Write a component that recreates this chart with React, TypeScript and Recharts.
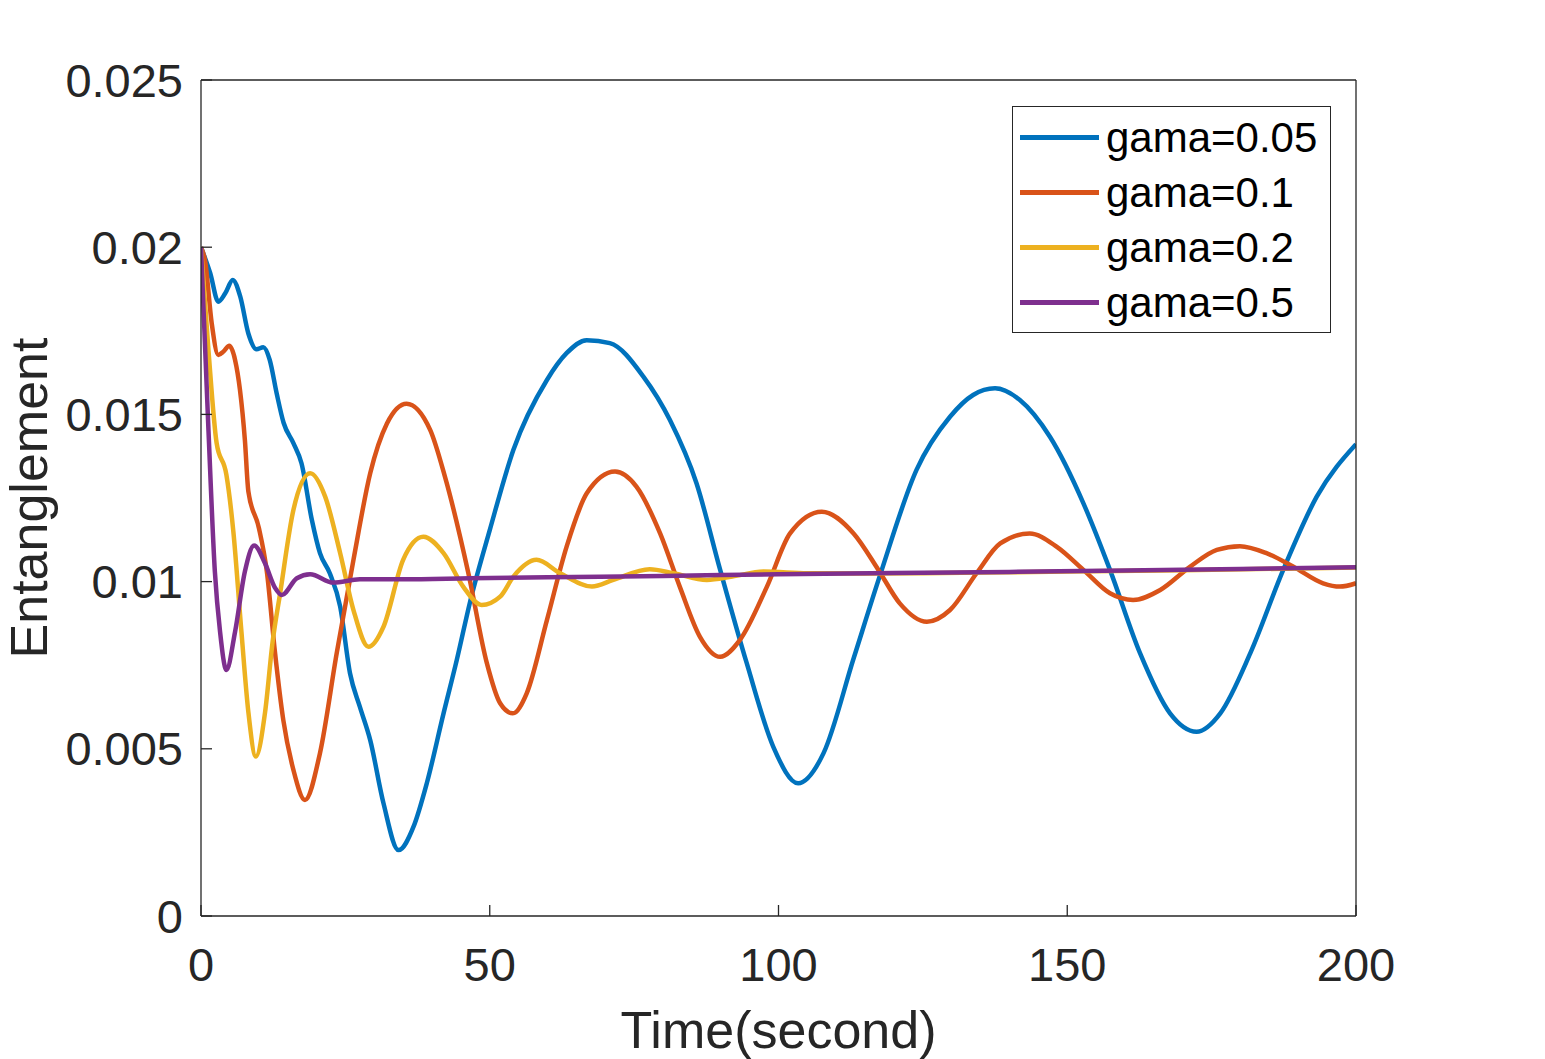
import React from 'react';
import { LineChart, Line, XAxis, YAxis, Legend } from 'recharts';

const FONT = '"Liberation Sans", Arial, Helvetica, sans-serif';
const AXIS = '#262626';

// [time (s), entanglement]
const gama005: [number, number][] = [
  [0, 0.02], [1.6, 0.01922], [3.0, 0.01837], [4.2, 0.01862], [5.5, 0.01902], [6.8, 0.01852],
  [8.2, 0.01742], [9.6, 0.01695], [10.8, 0.01701], [11.9, 0.01663], [13.1, 0.01563], [14.3, 0.01475],
  [16.0, 0.01414], [17.4, 0.01354], [19.2, 0.01184], [20.6, 0.01085], [22.3, 0.01025], [24.1, 0.00925],
  [25.8, 0.00726], [27.5, 0.00626], [29.3, 0.00526], [31.6, 0.00337], [34.2, 0.00197], [36.8, 0.00267],
  [39.1, 0.00397], [42.0, 0.00606], [44.3, 0.00766], [46.6, 0.0094], [50.0, 0.01154], [54.1, 0.01394],
  [59.9, 0.01603], [63.3, 0.01683], [66.8, 0.01722], [70.8, 0.01713], [76.6, 0.01613], [81.2, 0.01483],
  [85.8, 0.01294], [89.9, 0.01035], [94.5, 0.00756], [99.1, 0.00506], [103.4, 0.00397], [107.8, 0.00487],
  [113.0, 0.0077], [117.6, 0.0102], [123.9, 0.01334], [129.7, 0.01493], [133.7, 0.01558], [137.5, 0.01578],
  [141.8, 0.01543], [147.0, 0.01433], [152.8, 0.01234], [157.4, 0.01035], [162.6, 0.00786], [167.8, 0.00606],
  [172.4, 0.00551], [176.5, 0.00606], [181.7, 0.00786], [187.4, 0.01035], [193.2, 0.01254], [200, 0.01411],
];

const gama01: [number, number][] = [
  [0, 0.02], [0.7, 0.0196], [1.85, 0.01773], [3.0, 0.01678], [3.9, 0.01688], [4.9, 0.01705],
  [5.9, 0.01663], [6.75, 0.01573], [7.6, 0.01423], [8.2, 0.0127], [10.0, 0.01162], [11.4, 0.0103],
  [12.8, 0.0079], [14.25, 0.00586], [16.0, 0.00437], [18.0, 0.00347], [20.6, 0.00487], [23.5, 0.00786],
  [26.4, 0.01065], [29.3, 0.01324], [32.2, 0.01473], [35.6, 0.01532], [39.7, 0.01453], [42.3, 0.0131],
  [46.3, 0.01025], [49.5, 0.00756], [51.8, 0.00636], [54.0, 0.00606], [56.4, 0.00666], [59.9, 0.00885],
  [63.3, 0.01104], [66.8, 0.01264], [71.7, 0.01329], [75.4, 0.01284], [79.5, 0.01144], [82.9, 0.00985],
  [86.4, 0.00835], [89.9, 0.00775], [93.3, 0.00825], [98.0, 0.00985], [102.0, 0.01144], [107.5, 0.01209],
  [113.0, 0.01144], [117.3, 0.01035], [121.0, 0.00935], [125.7, 0.0088], [129.7, 0.00915], [134.3, 0.01025],
  [138.4, 0.01114], [143.5, 0.01144], [148.2, 0.01104], [152.8, 0.01035], [157.4, 0.00965], [161.4, 0.00945],
  [166.1, 0.00975], [171.3, 0.01045], [175.9, 0.01095], [179.9, 0.01106], [184.5, 0.01085], [189.1, 0.01045],
  [194.3, 0.00995], [197.2, 0.00985], [200, 0.00995],
];

const gama02: [number, number][] = [
  [0, 0.02], [1.3, 0.0169], [2.7, 0.01415], [4.4, 0.01319], [5.6, 0.0115], [7.0, 0.0085],
  [8.2, 0.0061], [9.5, 0.00477], [11.1, 0.0061], [12.4, 0.0082], [13.7, 0.00965], [16.0, 0.01214],
  [18.9, 0.01324], [21.5, 0.01254], [24.1, 0.01085], [26.4, 0.00915], [29.0, 0.00805], [31.6, 0.00865],
  [35.0, 0.01065], [38.5, 0.01134], [42.0, 0.01085], [45.4, 0.00985], [48.6, 0.0093], [51.8, 0.00955],
  [54.1, 0.01015], [58.1, 0.01065], [62.2, 0.01025], [67.7, 0.00985], [71.4, 0.01005], [77.7, 0.01037],
  [81.8, 0.01025], [87.6, 0.01005], [92.0, 0.01015], [97.4, 0.0103], [105, 0.01025], [115, 0.01024],
  [125, 0.01025], [140, 0.01028], [170, 0.01034], [200, 0.01042],
];

const gama05: [number, number][] = [
  [0, 0.02], [1.3, 0.0145], [2.4, 0.0103], [3.3, 0.0085], [4.4, 0.00736], [5.9, 0.0085],
  [7.6, 0.0103], [9.2, 0.01108], [11.1, 0.01054], [12.8, 0.00982], [14.0, 0.0096], [16.6, 0.0101],
  [18.9, 0.01022], [22.9, 0.00997], [27.5, 0.01007], [35, 0.01007], [46.6, 0.0101], [60, 0.01013],
  [80, 0.01017], [100, 0.01022], [120, 0.01026], [140, 0.01029], [160, 0.01033], [180, 0.01038],
  [200, 0.01043],
];

const xTicks = [0, 50, 100, 150, 200];
const yTicks = [0, 0.005, 0.01, 0.015, 0.02, 0.025];

const series = [
  { name: 'gama=0.05', color: '#0072BD', points: gama005 },
  { name: 'gama=0.1', color: '#D95319', points: gama01 },
  { name: 'gama=0.2', color: '#EDB120', points: gama02 },
  { name: 'gama=0.5', color: '#7E2F8E', points: gama05 },
];

const tickStyle = { fill: AXIS, fontSize: 47, fontFamily: FONT };

const renderLegend = (props: any) => (
  <div
    style={{
      width: 319,
      height: 227,
      boxSizing: 'border-box',
      border: `1.3px solid ${AXIS}`,
      background: '#fff',
      paddingTop: 3,
      fontFamily: FONT,
    }}
  >
    {(props.payload || []).map((entry: any) => (
      <div key={entry.value} style={{ display: 'flex', alignItems: 'center', height: 55 }}>
        <div style={{ width: 79, height: 4.5, marginLeft: 7, background: entry.color }} />
        <span style={{ marginLeft: 7, fontSize: 42, lineHeight: '55px', color: '#000' }}>{entry.value}</span>
      </div>
    ))}
  </div>
);

const App: React.FC = () => (
  <div style={{ position: 'absolute', left: 0, top: 0, width: 1545, height: 1059, background: '#fff' }}>
    <LineChart width={1545} height={1059} margin={{ top: 70, right: 179, bottom: 0, left: 0 }}>
      <XAxis
        dataKey="t"
        type="number"
        domain={[0, 200]}
        ticks={xTicks}
        interval={0}
        allowDataOverflow
        height={143}
        stroke={AXIS}
        strokeWidth={1.3}
        tickSize={-11}
        tickMargin={43}
        tick={tickStyle}
        label={{
          content: () => (
            <text x={778.5} y={1048} textAnchor="middle" fill={AXIS} fontSize={52} fontFamily={FONT}>
              Time(second)
            </text>
          ),
        }}
      />
      <XAxis
        xAxisId="top"
        orientation="top"
        dataKey="t"
        type="number"
        domain={[0, 200]}
        ticks={xTicks}
        interval={0}
        height={10}
        stroke={AXIS}
        strokeWidth={1.3}
        tickSize={-11}
        tick={false}
      />
      <YAxis
        type="number"
        domain={[0, 0.025]}
        ticks={yTicks}
        interval={0}
        allowDataOverflow
        width={201}
        stroke={AXIS}
        strokeWidth={1.3}
        tickSize={-11}
        tickMargin={29}
        tick={tickStyle}
        tickFormatter={(v: number) => String(v)}
        label={{
          content: () => (
            <text
              x={47}
              y={498}
              transform="rotate(-90 47 498)"
              textAnchor="middle"
              fill={AXIS}
              fontSize={52}
              fontFamily={FONT}
            >
              Entanglement
            </text>
          ),
        }}
      />
      <YAxis
        yAxisId="right"
        orientation="right"
        type="number"
        domain={[0, 0.025]}
        ticks={yTicks}
        interval={0}
        width={10}
        stroke={AXIS}
        strokeWidth={1.3}
        tickSize={-11}
        tick={false}
      />
      <Legend
        layout="vertical"
        align="center"
        verticalAlign="middle"
        content={renderLegend}
        wrapperStyle={{ left: 1012, top: 106, width: 319, height: 227 }}
      />
      {series.map((s) => (
        <Line
          key={s.name}
          name={s.name}
          data={s.points.map(([t, v]) => ({ t, v }))}
          dataKey="v"
          type="monotone"
          stroke={s.color}
          strokeWidth={4.5}
          dot={false}
          activeDot={false}
          isAnimationActive={false}
        />
      ))}
    </LineChart>
  </div>
);

export default App;
